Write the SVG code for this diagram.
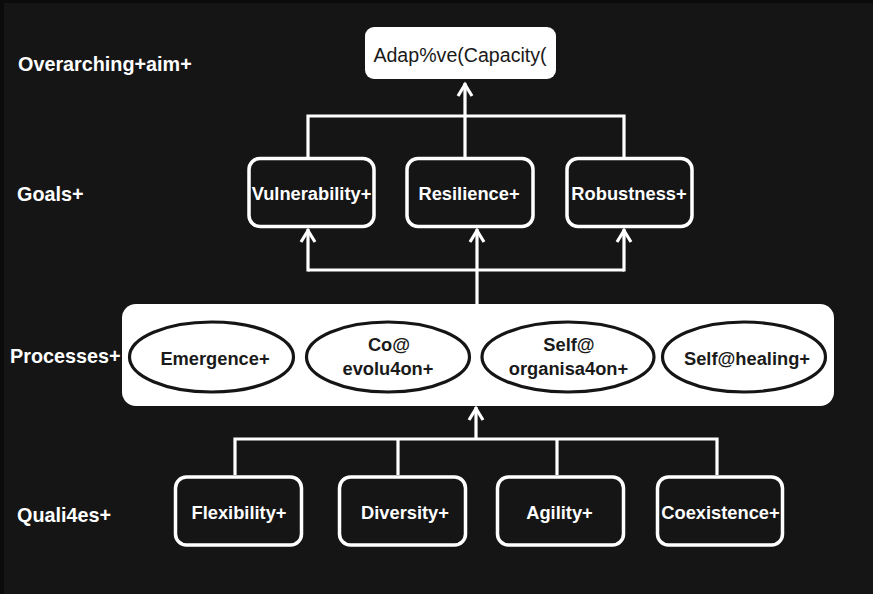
<svg xmlns="http://www.w3.org/2000/svg" width="873" height="594" viewBox="0 0 873 594">
  <style>
    .lbl { font-family: "Liberation Sans", Arial, Helvetica, sans-serif; font-weight: bold; font-size: 19.8px; fill: #ffffff; }
    .box { fill: #151515; stroke: #ffffff; stroke-width: 3.5; }
    .boxtext { font-family: "Liberation Sans", Arial, Helvetica, sans-serif; font-weight: bold; font-size: 18.3px; fill: #ffffff; text-anchor: middle; }
    .proc { fill: #ffffff; stroke: #151515; stroke-width: 3.2; }
    .proctext { font-family: "Liberation Sans", Arial, Helvetica, sans-serif; font-weight: bold; font-size: 18.3px; fill: #1a1a1a; text-anchor: middle; }
    .wire { fill: none; stroke: #ffffff; stroke-width: 3.2; }
  </style>
  <defs>
    <marker id="chevron" markerUnits="userSpaceOnUse" viewBox="-16 -10 18 20" markerWidth="18" markerHeight="20" refX="0" refY="0" orient="auto" overflow="visible">
      <path d="M-13,-7 L-1.5,0 L-13,7" fill="none" stroke="#ffffff" stroke-width="3.2"/>
    </marker>
  </defs>

  <!-- canvas -->
  <rect x="0" y="0" width="873" height="594" fill="#0b0b0b"/>
  <rect x="4" y="3" width="869" height="591" fill="#151515"/>

  <!-- row labels -->
  <g id="row-labels">
    <text class="lbl" x="18" y="71">Overarching+aim+</text>
    <text class="lbl" x="17" y="201">Goals+</text>
    <text class="lbl" x="10" y="363">Processes+</text>
    <text class="lbl" x="17" y="522">Quali4es+</text>
  </g>

  <!-- connectors -->
  <g id="connectors">
    <!-- goals to overarching aim -->
    <path class="wire" d="M308,157 V116 H624 V157"/>
    <path class="wire" d="M465,157 V83" marker-end="url(#chevron)"/>
    <!-- processes to goals -->
    <path class="wire" d="M308,270 H624"/>
    <path class="wire" d="M308,271.5 V229" marker-end="url(#chevron)"/>
    <path class="wire" d="M624,271.5 V229" marker-end="url(#chevron)"/>
    <path class="wire" d="M477,305 V229" marker-end="url(#chevron)"/>
    <!-- qualities to processes -->
    <path class="wire" d="M235,475 V439 H717 V475"/>
    <path class="wire" d="M398,439 V475"/>
    <path class="wire" d="M557,439 V475"/>
    <path class="wire" d="M476,439 V407" marker-end="url(#chevron)"/>
  </g>

  <!-- overarching aim -->
  <g id="adaptive-capacity">
    <rect x="365" y="27" width="191" height="52" rx="9" fill="#ffffff"/>
    <text x="460" y="62" font-family="'Liberation Sans', Arial, Helvetica, sans-serif" font-size="19.6" fill="#1a1a1a" text-anchor="middle">Adap%ve(Capacity(</text>
  </g>

  <!-- goals -->
  <g id="vulnerability">
    <rect class="box" x="249" y="158.5" width="125" height="68" rx="11"/>
    <text class="boxtext" x="311.5" y="200">Vulnerability+</text>
  </g>
  <g id="resilience">
    <rect class="box" x="407" y="158.5" width="126" height="68" rx="11"/>
    <text class="boxtext" x="469" y="200">Resilience+</text>
  </g>
  <g id="robustness">
    <rect class="box" x="567" y="158.5" width="125" height="68" rx="11"/>
    <text class="boxtext" x="629" y="200">Robustness+</text>
  </g>

  <!-- processes -->
  <g id="processes">
    <rect x="122" y="304" width="712" height="102" rx="14" fill="#ffffff"/>
  </g>
  <g id="emergence">
    <ellipse class="proc" cx="211.5" cy="357" rx="82" ry="35"/>
    <text class="proctext" x="215" y="365">Emergence+</text>
  </g>
  <g id="co-evolution">
    <ellipse class="proc" cx="388" cy="357" rx="81.5" ry="35"/>
    <text class="proctext" x="389" y="351">Co@</text>
    <text class="proctext" x="388" y="375">evolu4on+</text>
  </g>
  <g id="self-organisation">
    <ellipse class="proc" cx="568" cy="357" rx="86" ry="35"/>
    <text class="proctext" x="569" y="351">Self@</text>
    <text class="proctext" x="568.5" y="375">organisa4on+</text>
  </g>
  <g id="self-healing">
    <ellipse class="proc" cx="744" cy="357" rx="81.5" ry="35"/>
    <text class="proctext" x="747" y="365">Self@healing+</text>
  </g>

  <!-- qualities -->
  <g id="flexibility">
    <rect class="box" x="175.5" y="477" width="126" height="68" rx="11"/>
    <text class="boxtext" x="239" y="519">Flexibility+</text>
  </g>
  <g id="diversity">
    <rect class="box" x="339.5" y="477" width="126" height="68" rx="11"/>
    <text class="boxtext" x="405" y="519">Diversity+</text>
  </g>
  <g id="agility">
    <rect class="box" x="497.5" y="477" width="126" height="68" rx="11"/>
    <text class="boxtext" x="559.5" y="519">Agility+</text>
  </g>
  <g id="coexistence">
    <rect class="box" x="657.5" y="477" width="125" height="68" rx="11"/>
    <text class="boxtext" x="720.5" y="519">Coexistence+</text>
  </g>
</svg>
